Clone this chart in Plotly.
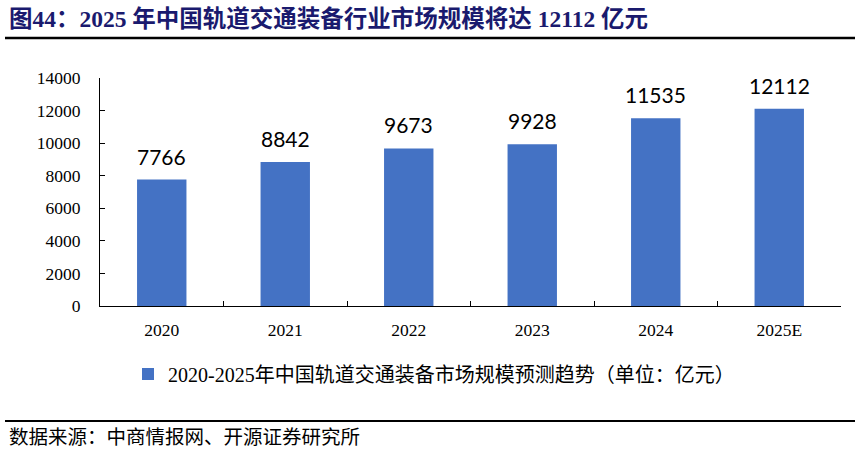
import plotly.graph_objects as go

categories = ["2020", "2021", "2022", "2023", "2024", "2025E"]
values = [7766, 8842, 9673, 9928, 11535, 12112]
y_ticks = [0, 2000, 4000, 6000, 8000, 10000, 12000, 14000]
y_tick_labels = ["0", "2000", "4000", "6000", "8000", "10000", "12000", "14000"]
series_name = "2020-2025年中国轨道交通装备市场规模预测趋势（单位：亿元）"
title_text = "图44：2025 年中国轨道交通装备行业市场规模将达 12112 亿元"
source_text = "数据来源：中商情报网、开源证券研究所"

L, R, T, B = 100, 18, 78, 146
W, H = 859, 452
pw = W - L - R
ph = H - T - B

def px(x):
    return (x - L) / pw

def py(y):
    return (H - B - y) / ph

serif = "Liberation Serif, Times New Roman, Noto Sans CJK SC, serif"

fig = go.Figure()
fig.add_trace(go.Bar(
    x=categories, y=values, name=series_name,
    marker=dict(color="#4472C4", line=dict(width=0)),
    cliponaxis=False,
))

for i, (c, v) in enumerate(zip(categories, values)):
    fig.add_annotation(x=i, y=v, text=str(v), xref="x", yref="y",
                       yanchor="bottom", yshift=9, showarrow=False,
                       font=dict(family="Lato, Open Sans, sans-serif", size=21, color="#000000"))

fig.update_layout(
    width=W, height=H,
    margin=dict(l=L, r=R, t=T, b=B),
    paper_bgcolor="white", plot_bgcolor="white",
    bargap=0.6,
    showlegend=True,
    legend=dict(orientation="h", x=px(128), y=py(374), yanchor="middle", xanchor="left",
                font=dict(family=serif, size=20, color="#000000"),
                itemwidth=30),
    xaxis=dict(type="category", categoryorder="array", categoryarray=categories,
               showline=True, linecolor="#000000", linewidth=1,
               ticks="inside", tickson="boundaries", ticklen=5, tickcolor="#000000",
               tickfont=dict(family=serif, size=17.5, color="#000000"),
               ticklabelstandoff=8, tickangle=0,
               showgrid=False, fixedrange=True, automargin=False),
    yaxis=dict(range=[0, 14000], tickvals=y_ticks, ticktext=y_tick_labels,
               showline=True, linecolor="#000000",
               linewidth=1, ticks="inside", ticklen=5, tickcolor="#000000",
               tickfont=dict(family=serif, size=17.5, color="#000000"),
               ticklabelstandoff=15,
               showgrid=False, zeroline=False, fixedrange=True, automargin=False),
    shapes=[
        dict(type="line", xref="paper", yref="paper", x0=px(5), x1=px(855),
             y0=py(38), y1=py(38), line=dict(color="#000000", width=2.5)),
        dict(type="line", xref="paper", yref="paper", x0=px(5), x1=px(855),
             y0=py(421), y1=py(421), line=dict(color="#000000", width=2)),
    ],
)

fig.add_annotation(text="<b>" + title_text + "</b>", xref="paper", yref="paper",
                   x=px(7), y=py(19), xanchor="left", yanchor="middle", showarrow=False,
                   font=dict(family=serif, size=23.5, color="#1a1a6e"))
fig.add_annotation(text=source_text, xref="paper", yref="paper",
                   x=px(7), y=py(437), xanchor="left", yanchor="middle", showarrow=False,
                   font=dict(family=serif, size=19.5, color="#000000"))

fig.write_html("out.html", config={"displayModeBar": False},
               post_script="document.body.style.margin='0';document.body.style.padding='0';")
